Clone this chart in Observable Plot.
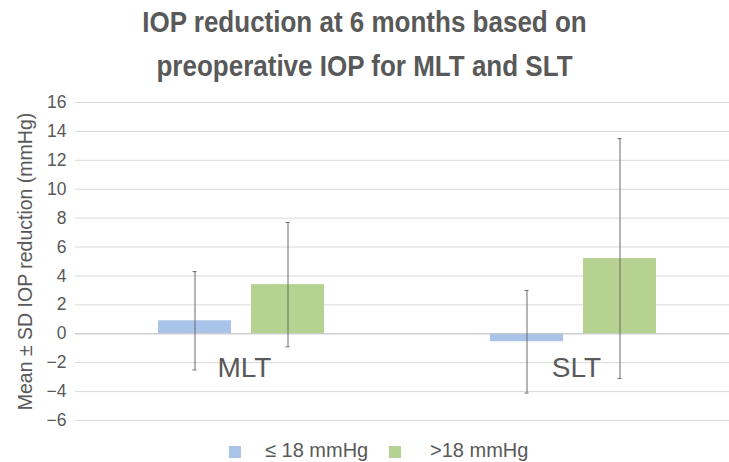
<!DOCTYPE html>
<html>
<head>
<meta charset="utf-8">
<script src="https://cdn.jsdelivr.net/npm/d3@7"></script>
<script src="https://cdn.jsdelivr.net/npm/@observablehq/plot@0.6"></script>
<style>
  html, body { margin: 0; padding: 0; background: #fff; }
  body { width: 729px; height: 462px; overflow: hidden; font-family: "Liberation Sans", Arial, sans-serif; color: #595959; }
  #title { height: 88px; text-align: center; font-weight: bold; font-size: 26px; line-height: 44px; box-sizing: border-box; }
  #title span { display: inline-block; transform: scale(1, 1.1); }
  #legend { font-size: 20px; height: 32px; position: relative; }
  .sw { position: absolute; width: 12px; height: 12px; top: 16px; }
  .lt { position: absolute; top: 9px; }
</style>
</head>
<body>
<div id="title"><span>IOP reduction at 6 months based on</span><br><span>preoperative IOP for MLT and SLT</span></div>
<div id="chart"></div>
<div id="legend"></div>
<script>
const groups = ["MLT", "SLT"];
const series = ["≤ 18 mmHg", ">18 mmHg"];
const colors = ["#a9c4e8", "#b5d291"];
const mltMean = [0.9, 3.4];
const mltSD = [3.4, 4.3];
const sltMean = [-0.55, 5.2];
const sltSD = [3.55, 8.3];
const yTicks = [-6, -4, -2, 0, 2, 4, 6, 8, 10, 12, 14, 16];
const yLabel = "Mean ± SD IOP reduction (mmHg)";

const data = [];
groups.forEach((g, gi) => {
  const m = gi === 0 ? mltMean : sltMean;
  const s = gi === 0 ? mltSD : sltSD;
  series.forEach((k, si) => {
    data.push({group: g, series: k, mean: m[si], lo: m[si] - s[si], hi: m[si] + s[si]});
  });
});
const labels = groups.map(g => ({group: g}));

const chart = Plot.plot({
  width: 729,
  height: 342,
  marginTop: 14,
  marginBottom: 10,
  marginLeft: 74,
  marginRight: 0,
  style: {fontFamily: "Liberation Sans, Arial, sans-serif", fontSize: "17px", color: "#595959", background: "#fff"},
  fx: {domain: groups, range: [74, 739], paddingInner: 0, paddingOuter: 0, axis: null},
  x: {domain: series, paddingInner: 0.213, paddingOuter: 0.875, axis: null},
  y: {domain: [-6, 16]},
  color: {domain: series, range: colors},
  marks: [
    Plot.ruleY(yTicks, {stroke: "#d9d9d9", strokeWidth: 1}),
    Plot.axisY({ticks: yTicks, tickSize: 0, tickPadding: 9, label: yLabel, labelAnchor: "center", labelArrow: "none", labelOffset: 57, fill: "#595959", fontSize: 17.5}),
    Plot.barY(data, {fx: "group", x: "series", y: "mean", fill: "series"}),
    Plot.ruleY([0], {stroke: "#c8c8c8"}),
    Plot.ruleX(data, {fx: "group", x: "series", y1: "lo", y2: "hi", stroke: "#6b6b6b", strokeWidth: 1}),
    Plot.tickY(data, {fx: "group", x: "series", y: "hi", stroke: "#6b6b6b", insetLeft: 34.5, insetRight: 34.5}),
    Plot.tickY(data, {fx: "group", x: "series", y: "lo", stroke: "#6b6b6b", insetLeft: 34.5, insetRight: 34.5}),
    Plot.text(labels, {fx: "group", y: () => 0, text: "group", dy: 34, dx: 3, fontSize: 28, fill: "#595959"})
  ]
});
const lab = chart.querySelector('[aria-label="y-axis label"]');
if (lab) { lab.setAttribute("font-size", "19.5"); lab.querySelectorAll("text").forEach(t => t.setAttribute("font-size", "19.5")); }
document.getElementById("chart").appendChild(chart);

const legend = document.getElementById("legend");
const pos = [[229, 265], [389, 430]];
series.forEach((s, i) => {
  const sw = document.createElement("div");
  sw.className = "sw"; sw.style.left = pos[i][0] + "px"; sw.style.background = colors[i];
  const t = document.createElement("div");
  t.className = "lt"; t.style.left = pos[i][1] + "px"; t.textContent = s;
  legend.appendChild(sw); legend.appendChild(t);
});
</script>
</body>
</html>
